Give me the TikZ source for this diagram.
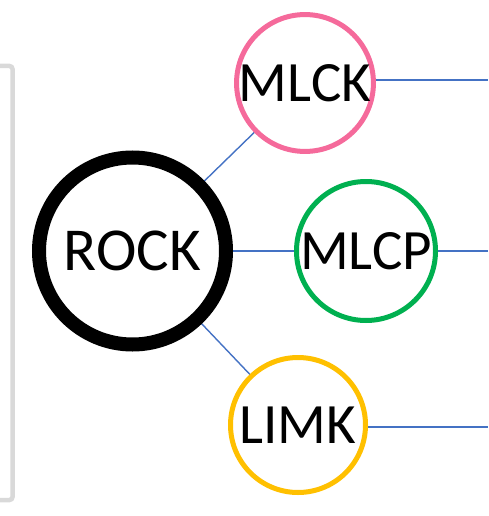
\documentclass[tikz,border=0pt]{standalone}
\usepackage{fontspec}
\setmainfont{Carlito}
\usetikzlibrary{backgrounds}
\begin{document}
\begin{tikzpicture}[x=1pt,y=-1pt,
  ring/.style={circle,draw,fill=white,inner sep=0pt,font=\fontsize{57}{60}\selectfont},
  link/.style={draw=linkblue,line width=1.4pt}]
\definecolor{linkblue}{HTML}{4472C4}
\definecolor{pinkc}{HTML}{F56A9B}
\definecolor{greenc}{HTML}{00B050}
\definecolor{goldc}{HTML}{FFC000}
\definecolor{grayc}{HTML}{D9D9D9}
\useasboundingbox (0,0) rectangle (488,516);
% gray bracket (right edge of an off-picture box)
\draw[grayc,line width=4.5pt,rounded corners=3pt] (-20,66) -- (12.5,66) -- (12.5,500) -- (-20,500);
% circles with labels
\node[ring,draw=black,line width=14pt,minimum size=187pt,font=\fontsize{61}{64}\selectfont] (rock) at (132.5,251) {ROCK};
\node[ring,draw=pinkc,line width=5pt,minimum size=135pt] (mlck) at (305,83) {MLCK};
\node[ring,draw=greenc,line width=5pt,minimum size=139pt] (mlcp) at (366,251) {MLCP};
\node[ring,draw=goldc,line width=5pt,minimum size=135pt] (limk) at (298,425) {LIMK};
% free ends of outgoing lines
\coordinate (e1) at (488,80);
\coordinate (e2) at (488,251);
\coordinate (e3) at (488,427);
% connectors behind the circles
\begin{scope}[on background layer]
\path[link] (rock.center) -- (mlck.center);
\path[link] (rock.center) -- (mlcp.center);
\path[link] (rock.center) -- (limk.center);
\path[link] (mlck.center |- e1) -- (e1);
\path[link] (mlcp.center) -- (e2);
\path[link] (limk.center |- e3) -- (e3);
\end{scope}
\end{tikzpicture}
\end{document}
